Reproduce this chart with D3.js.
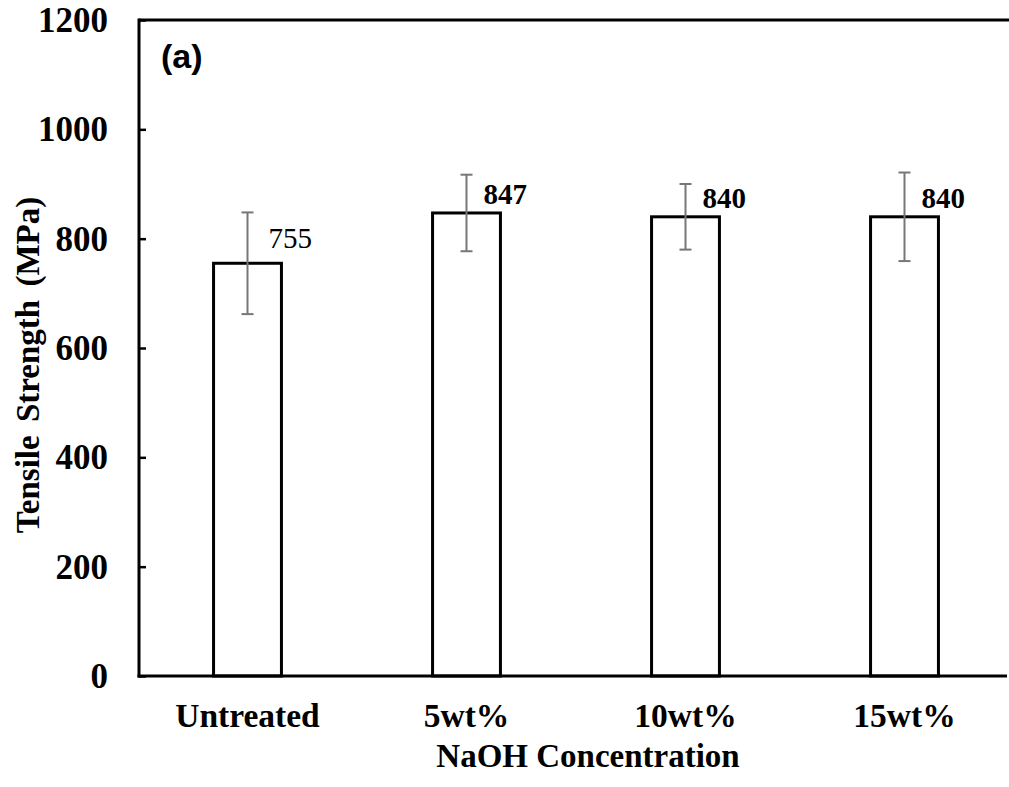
<!DOCTYPE html>
<html>
<head>
<meta charset="utf-8">
<script src="https://cdn.jsdelivr.net/npm/d3@7"></script>
<style>
  html, body { margin: 0; padding: 0; background: #fff; }
  svg { display: block; }
</style>
</head>
<body>
<svg id="chart" width="1009" height="787"></svg>
<script>
// Tensile strength of fibres by NaOH treatment level
const categories = ["Untreated", "5wt%", "10wt%", "15wt%"];
const strength = [755, 847, 840, 840];
const errors = [93, 70, 60, 81];
const yTicks = [0, 200, 400, 600, 800, 1000, 1200];

const svg = d3.select("#chart");
const plotLeft = 139, plotTop = 20, plotBottom = 676, plotRight = 1014;

const x = d3.scaleBand()
  .domain(categories)
  .range([138, plotRight])
  .paddingInner(0.69)
  .paddingOuter(0.345);

const y = d3.scaleLinear().domain([0, 1200]).range([plotBottom, plotTop]);

const serif = "'Liberation Serif', 'Times New Roman', serif";

// Frame: top border line
svg.append("line")
  .attr("x1", plotLeft).attr("x2", 1009)
  .attr("y1", plotTop).attr("y2", plotTop)
  .attr("stroke", "#000").attr("stroke-width", 3);

// Y axis with inward ticks
const yAxis = svg.append("g")
  .attr("transform", `translate(${plotLeft},0)`)
  .call(d3.axisRight(y).tickValues(yTicks).tickSize(7).tickFormat(""));
yAxis.select(".domain").remove();
yAxis.selectAll(".tick line").attr("stroke", "#000").attr("stroke-width", 2.5);
svg.append("line")
  .attr("x1", plotLeft).attr("x2", plotLeft)
  .attr("y1", plotTop - 1.5).attr("y2", plotBottom + 1.5)
  .attr("stroke", "#000").attr("stroke-width", 3);

// Y tick labels
svg.append("g").selectAll("text")
  .data(yTicks)
  .join("text")
  .attr("x", 108)
  .attr("y", d => y(d))
  .attr("dy", "0.34em")
  .attr("text-anchor", "end")
  .attr("font-family", serif)
  .attr("font-weight", "bold")
  .attr("font-size", 35)
  .text(d => d);

// Bars
svg.append("g").selectAll("rect")
  .data(strength)
  .join("rect")
  .attr("x", (d, i) => x(categories[i]))
  .attr("y", d => y(d))
  .attr("width", x.bandwidth())
  .attr("height", d => y(0) - y(d))
  .attr("fill", "#fff")
  .attr("stroke", "#000")
  .attr("stroke-width", 3);

// X axis baseline
svg.append("line")
  .attr("x1", plotLeft - 1.5).attr("x2", 1007)
  .attr("y1", plotBottom).attr("y2", plotBottom)
  .attr("stroke", "#000").attr("stroke-width", 3);

// Error bars
const eb = svg.append("g").attr("stroke", "#777").attr("stroke-width", 2);
strength.forEach((v, i) => {
  const cx = x(categories[i]) + x.bandwidth() / 2;
  const hi = y(v + errors[i]), lo = y(v - errors[i]);
  eb.append("line").attr("x1", cx).attr("x2", cx).attr("y1", hi).attr("y2", lo);
  eb.append("line").attr("x1", cx - 6).attr("x2", cx + 6).attr("y1", hi).attr("y2", hi);
  eb.append("line").attr("x1", cx - 6).attr("x2", cx + 6).attr("y1", lo).attr("y2", lo);
});

// Value labels
svg.append("g").selectAll("text")
  .data(strength)
  .join("text")
  .attr("x", (d, i) => x(categories[i]) + x.bandwidth() / 2 + (i === 0 ? 21 : 17))
  .attr("y", (d, i) => y(d) - (i === 0 ? 15 : 9))
  .attr("font-family", serif)
  .attr("font-weight", (d, i) => i === 0 ? "normal" : "bold")
  .attr("font-size", 29)
  .text(d => d);

// X category labels
svg.append("g").selectAll("text")
  .data(categories)
  .join("text")
  .attr("x", d => x(d) + x.bandwidth() / 2)
  .attr("y", 727)
  .attr("text-anchor", "middle")
  .attr("font-family", serif)
  .attr("font-weight", "bold")
  .attr("font-size", 33.5)
  .text(d => d);

// Axis titles
svg.append("text")
  .attr("x", 588).attr("y", 767)
  .attr("text-anchor", "middle")
  .attr("font-family", serif)
  .attr("font-weight", "bold")
  .attr("font-size", 33)
  .text("NaOH Concentration");

svg.append("text")
  .attr("transform", "translate(39,365) rotate(-90)")
  .attr("text-anchor", "middle")
  .attr("font-family", serif)
  .attr("font-weight", "bold")
  .attr("font-size", 33)
  .attr("word-spacing", 5)
  .text("Tensile Strength (MPa)");

// Panel tag
svg.append("text")
  .attr("x", 161).attr("y", 68)
  .attr("font-family", "'Liberation Sans', Arial, sans-serif")
  .attr("font-weight", "bold")
  .attr("font-size", 34)
  .text("(a)");
</script>
</body>
</html>
